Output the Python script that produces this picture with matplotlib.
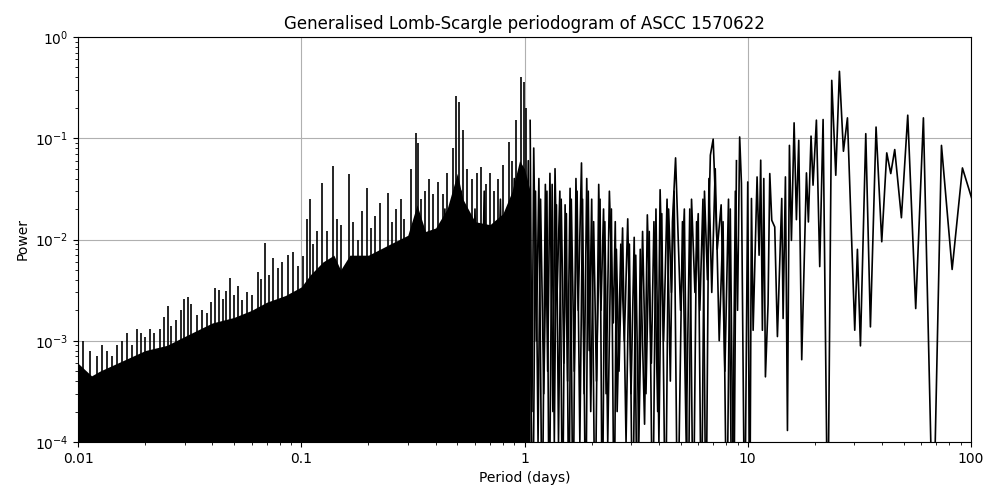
import matplotlib
matplotlib.use("Agg")
import matplotlib.pyplot as plt
from matplotlib.ticker import FixedLocator, FixedFormatter

# Solid (densely filled) level of the short-period noise
floor_period = [0.01, 0.0115, 0.0125, 0.015, 0.02, 0.025, 0.03, 0.035, 0.04, 0.05, 0.06, 0.07, 0.085, 0.1, 0.11,
                0.125, 0.14, 0.15, 0.165, 0.2, 0.25, 0.3, 0.33, 0.36, 0.4, 0.45, 0.5, 0.53, 0.6, 0.7,
                0.8, 0.88, 0.95, 1.0, 1.06]
floor_power = [6e-4, 4.5e-4, 5e-4, 6e-4, 8e-4, 9e-4, 1.1e-3, 1.3e-3, 1.5e-3, 1.7e-3, 2.0e-3, 2.4e-3, 2.8e-3, 3.4e-3, 4.5e-3,
               6e-3, 7e-3, 5e-3, 7e-3, 7e-3, 9e-3, 1.1e-2, 2.2e-2, 1.2e-2, 1.3e-2, 2e-2, 4.5e-2, 2.5e-2, 1.5e-2, 1.4e-2,
               1.8e-2, 3e-2, 6e-2, 5e-2, 3e-2]

# Spike peaks, 0.01 - 1 day
spike_period = [0.0105, 0.0113, 0.0122, 0.0128, 0.0135, 0.0142, 0.015, 0.0158, 0.0166, 0.0174,
                0.0183, 0.0192, 0.0200, 0.021, 0.022, 0.0232, 0.0243, 0.0252, 0.026, 0.0275,
                0.029, 0.0298, 0.031, 0.0322, 0.034, 0.036, 0.038, 0.0395, 0.041, 0.043,
                0.0445, 0.046, 0.048, 0.050, 0.052, 0.054, 0.057, 0.060, 0.064, 0.066,
                0.069, 0.072, 0.075, 0.079, 0.082, 0.087, 0.092, 0.097, 0.102, 0.106,
                0.110, 0.113, 0.118, 0.124, 0.130, 0.139, 0.145, 0.150, 0.163, 0.170,
                0.180, 0.187, 0.198, 0.206, 0.215, 0.226, 0.245, 0.255, 0.265, 0.28,
                0.29, 0.31, 0.328, 0.333, 0.345, 0.36, 0.375, 0.39, 0.41, 0.43,
                0.45, 0.48, 0.495, 0.51, 0.53, 0.55, 0.58, 0.61, 0.64, 0.67,
                0.70, 0.73, 0.76, 0.80, 0.85, 0.88, 0.92, 0.96, 0.99, 1.02]
spike_power = [1.0e-3, 8e-4, 7e-4, 9e-4, 8e-4, 7e-4, 9e-4, 1.0e-3, 1.2e-3, 9e-4,
               1.3e-3, 1.2e-3, 1.1e-3, 1.3e-3, 1.2e-3, 1.3e-3, 1.7e-3, 2.2e-3, 1.4e-3, 1.6e-3,
               2.0e-3, 2.6e-3, 2.7e-3, 2.3e-3, 1.8e-3, 2.0e-3, 1.9e-3, 2.4e-3, 3.3e-3, 3.2e-3,
               2.6e-3, 3.1e-3, 4.2e-3, 2.8e-3, 3.5e-3, 2.5e-3, 3.0e-3, 2.8e-3, 4.8e-3, 4.1e-3,
               9.2e-3, 4.5e-3, 6.5e-3, 5.2e-3, 6.0e-3, 7.1e-3, 7.5e-3, 5.5e-3, 6.8e-3, 1.6e-2,
               2.5e-2, 9e-3, 1.2e-2, 3.6e-2, 1.2e-2, 5.3e-2, 1.6e-2, 1.4e-2, 4.4e-2, 1.5e-2,
               1.0e-2, 1.9e-2, 3.2e-2, 1.3e-2, 1.7e-2, 2.3e-2, 2.9e-2, 1.5e-2, 2.0e-2, 2.5e-2,
               1.6e-2, 5.0e-2, 0.112, 0.09, 2.5e-2, 3.0e-2, 4.0e-2, 2.8e-2, 3.7e-2, 2.8e-2,
               4.5e-2, 0.08, 0.26, 0.23, 0.12, 5.0e-2, 4.0e-2, 4.5e-2, 5.2e-2, 3.5e-2,
               4.5e-2, 3.0e-2, 4.0e-2, 5.5e-2, 9.2e-2, 6e-2, 0.15, 0.40, 0.36, 0.2]

# Extra oscillation of the noisy trace, 0.4 - 9 days (mid-level swings)
osc_period = [0.42, 0.44, 0.46, 0.5, 0.52, 0.56, 0.6, 0.63, 0.66, 0.72, 0.78, 0.83, 0.9, 0.94, 1.0,
              1.04, 1.09, 1.12, 1.15, 1.18, 1.22, 1.26, 1.29, 1.33, 1.36, 1.39, 1.42, 1.46, 1.5, 1.54,
              1.58, 1.62, 1.67, 1.72, 1.77, 1.82, 1.88, 1.93, 1.98, 2.04, 2.1, 2.18, 2.23, 2.29, 2.36,
              2.45, 2.52, 2.58, 2.65, 2.75, 2.85, 2.95, 3.05, 3.15, 3.25, 3.38, 3.5, 3.62, 3.75, 3.88,
              4.0, 4.12, 4.28, 4.42, 4.55, 4.68, 4.85, 5.1, 5.3, 5.5, 5.7, 5.9, 6.1, 6.3, 6.5,
              6.7, 6.9, 7.15, 7.45, 7.75, 8.05, 8.35, 8.65, 8.9]
osc_power = [3e-4, 2e-2, 1e-5, 1e-4, 3e-2, 1e-5, 2e-2, 1e-4, 3e-2, 1e-5, 2.5e-2, 1e-5, 4e-2, 2e-4, 1e-4,
             6e-2, 1e-5, 3e-2, 1e-4, 2.5e-2, 3e-4, 3e-2, 1e-5, 3.5e-2, 1e-4, 2.2e-2, 1e-4, 2.5e-2, 6e-4, 1.8e-2,
             1e-5, 2.5e-2, 5e-4, 3e-2, 1e-4, 2.5e-2, 1e-5, 3e-2, 2e-4, 1.5e-2, 4e-4, 2.5e-2, 1e-5, 1.5e-2, 1e-4,
             2e-2, 1e-5, 8e-3, 5e-4, 1.3e-2, 1e-4, 9e-3, 1e-5, 7e-3, 1e-4, 1.2e-2, 3e-4, 1.2e-2, 1e-5, 2e-2,
             1e-4, 1.8e-2, 1e-5, 2e-2, 3e-3, 3e-2, 1e-5, 1.5e-2, 1e-4, 2e-2, 1e-5, 1.5e-2, 2e-3, 2.5e-2, 1e-5,
             4e-2, 3e-3, 5e-2, 1e-3, 1.5e-2, 1e-5, 2e-2, 1e-5, 6e-2]

# Trace from 1 day to 100 days (peaks and troughs)
curve_period = [1.06, 1.08, 1.1, 1.13, 1.16, 1.2, 1.24, 1.27, 1.3, 1.34, 1.37, 1.4, 1.44, 1.48, 1.52,
                1.56, 1.6, 1.65, 1.7, 1.74, 1.8, 1.85, 1.9, 1.95, 2.0, 2.07, 2.15, 2.2, 2.26, 2.32,
                2.4, 2.5, 2.55, 2.6, 2.7, 2.8, 2.9, 3.0, 3.1, 3.2, 3.3, 3.45, 3.55, 3.7, 3.8,
                3.95, 4.05, 4.2, 4.35, 4.5, 4.6, 4.75, 5.0, 5.2, 5.4, 5.6, 5.8, 6.0, 6.2, 6.4,
                6.6, 6.8, 7.0, 7.3, 7.6, 7.9, 8.2, 8.5, 8.8, 9.0, 9.2,
                9.37, 9.69, 10.0, 10.21, 10.39, 10.57, 10.82, 11.01, 11.24, 11.43, 11.63, 11.80,
                12.0, 12.33, 12.55, 12.81, 13.21, 13.58, 14.2, 14.4, 14.75,
                15.06, 15.37, 15.69, 16.13, 16.52, 16.92, 17.45, 18.32, 18.69, 19.21, 19.61,
                20.30, 21.01, 21.75, 22.82, 23.78, 24.79, 25.74, 26.83, 27.96, 30.15, 30.99,
                31.97, 33.78, 35.44, 37.56, 39.83, 41.94, 43.71, 45.54, 48.78, 52.08, 56.54,
                61.21, 67.65, 73.74, 82.32, 91.54, 100.8]
curve_power = [0.15, 2e-4, 0.08, 1e-3, 0.04, 1e-5, 0.035, 5e-4, 0.045, 2e-4, 0.05, 3e-3, 0.03, 1e-5, 0.022,
               4e-4, 0.032, 1e-5, 0.04, 2e-3, 0.057, 3e-4, 0.04, 8e-4, 0.025, 1e-5, 0.035, 2e-3, 0.02, 3e-4,
               0.03, 1.5e-3, 0.015, 2e-4, 0.009, 1e-3, 0.016, 3e-4, 0.0105, 1e-5, 0.008, 1.5e-4, 0.0175, 6e-4, 0.015,
               2e-4, 0.031, 1e-3, 0.025, 4e-4, 0.015, 0.064, 2e-3, 0.02, 1e-5, 0.025, 3e-3, 0.018, 1e-5, 0.03,
               4e-3, 0.068, 0.098, 8e-3, 0.022, 5e-4, 0.025, 1e-5, 0.03, 2e-3, 0.103,
               0.0358, 1e-5, 0.037, 1e-5, 0.0254, 0.00127, 0.0098, 0.0415, 0.007, 0.0607, 0.00127, 0.040,
               4.4e-4, 0.0023, 0.0448, 0.0155, 0.0133, 0.0011, 0.0254, 0.00166, 0.0415,
               1.3e-4, 0.085, 0.0098, 0.142, 0.0157, 0.0955, 6.5e-4, 0.0455, 0.0149, 0.105, 0.0344,
               0.151, 0.0054, 0.153, 1e-5, 0.373, 0.0431, 0.458, 0.0744, 0.159, 0.00127, 0.0080,
               8.9e-4, 0.111, 0.00137, 0.129, 0.0095, 0.0717, 0.0448, 0.0773, 0.0164, 0.169, 0.00208,
               0.159, 1e-5, 0.085, 0.00506, 0.0509, 0.0254]

xticks = [0.01, 0.1, 1, 10, 100]
xtick_labels = ["0.01", "0.1", "1", "10", "100"]

fig, ax = plt.subplots(figsize=(10, 5), dpi=100)
ax.fill_between(floor_period, 1e-5, floor_power, color="black", linewidth=0)
ax.vlines(spike_period, 1e-5, spike_power, color="black", linewidth=1.2)
ax.plot(osc_period, osc_power, color="black", linewidth=1.2)
ax.plot(curve_period, curve_power, color="black", linewidth=1.2)

ax.set_xscale("log")
ax.set_yscale("log")
ax.set_xlim(0.01, 100)
ax.set_ylim(1e-4, 1)
ax.xaxis.set_major_locator(FixedLocator(xticks))
ax.xaxis.set_major_formatter(FixedFormatter(xtick_labels))
ax.grid(True, which="major", color="#b0b0b0", linewidth=0.8)
ax.set_axisbelow(True)
ax.set_xlabel("Period (days)")
ax.set_ylabel("Power")
ax.set_title("Generalised Lomb-Scargle periodogram of ASCC 1570622")
fig.subplots_adjust(left=0.078, right=0.971, top=0.926, bottom=0.116)
fig.savefig("out.png", dpi=100)
